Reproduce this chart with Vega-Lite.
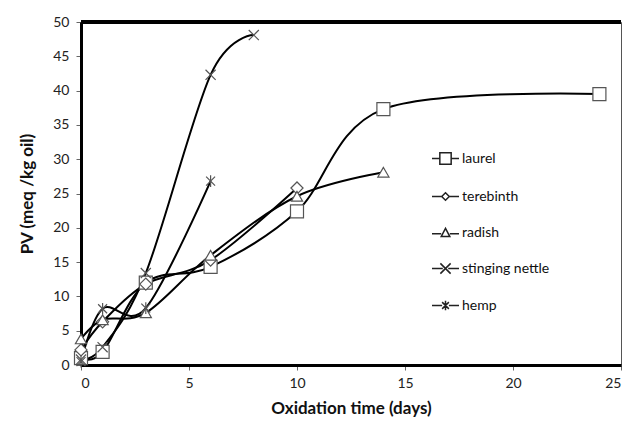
{
  "$schema": "https://vega.github.io/schema/vega-lite/v6.json",
  "autosize": "none",
  "width": 540,
  "height": 343,
  "padding": {"left": 81, "top": 22, "right": 9, "bottom": 60},
  "background": "white",
  "config": {
    "font": "Lato",
    "view": {"stroke": "#555", "strokeWidth": 1},
    "axis": {"grid": false, "labelFont": "Lato", "titleFont": "Lato", "labelFontSize": 14, "labelColor": "#222", "titleFontSize": 17, "titleFontWeight": "bold", "titleColor": "#111", "domainColor": "black", "domainWidth": 3, "tickColor": "#666", "tickSize": 5}
  },
  "data": {"values": [
    {"series": "laurel", "day": 0, "pv": 1.0},
    {"series": "laurel", "day": 1, "pv": 1.9},
    {"series": "laurel", "day": 3, "pv": 12.0},
    {"series": "laurel", "day": 6, "pv": 14.3},
    {"series": "laurel", "day": 10, "pv": 22.4},
    {"series": "laurel", "day": 14, "pv": 37.3},
    {"series": "laurel", "day": 24, "pv": 39.5},
    {"series": "terebinth", "day": 0, "pv": 2.2},
    {"series": "terebinth", "day": 1, "pv": 6.3},
    {"series": "terebinth", "day": 3, "pv": 11.8},
    {"series": "terebinth", "day": 6, "pv": 15.3},
    {"series": "terebinth", "day": 10, "pv": 25.8},
    {"series": "radish", "day": 0, "pv": 3.8},
    {"series": "radish", "day": 1, "pv": 6.6},
    {"series": "radish", "day": 3, "pv": 7.6},
    {"series": "radish", "day": 6, "pv": 16.0},
    {"series": "radish", "day": 10, "pv": 24.6},
    {"series": "radish", "day": 14, "pv": 28.1},
    {"series": "stinging nettle", "day": 0, "pv": 0.8},
    {"series": "stinging nettle", "day": 1, "pv": 2.6},
    {"series": "stinging nettle", "day": 3, "pv": 13.4},
    {"series": "stinging nettle", "day": 6, "pv": 42.3},
    {"series": "stinging nettle", "day": 8, "pv": 48.1},
    {"series": "hemp", "day": 0, "pv": 0.5},
    {"series": "hemp", "day": 1, "pv": 8.2},
    {"series": "hemp", "day": 3, "pv": 8.3},
    {"series": "hemp", "day": 6, "pv": 26.8}
  ]},
  "layer": [
    {
      "mark": {"type": "line", "interpolate": "cardinal", "color": "black", "strokeWidth": 2},
      "encoding": {
        "x": {"field": "day", "type": "quantitative", "scale": {"domain": [0, 25], "nice": false}, "axis": {"values": [0, 5, 10, 15, 20, 25], "title": "Oxidation time (days)", "labelPadding": 6, "titlePadding": 10}},
        "y": {"field": "pv", "type": "quantitative", "scale": {"domain": [0, 50], "nice": false}, "axis": {"values": [0, 5, 10, 15, 20, 25, 30, 35, 40, 45, 50], "title": "PV (meq /kg oil)", "labelPadding": 7, "titlePadding": 16}},
        "detail": {"field": "series"}
      }
    },
    {
      "mark": {"type": "rule", "color": "black", "strokeWidth": 3},
      "encoding": {
        "y": {"datum": 50, "type": "quantitative", "scale": {"domain": [0, 50], "nice": false}, "axis": {"values": [0, 5, 10, 15, 20, 25, 30, 35, 40, 45, 50], "title": "PV (meq /kg oil)", "labelPadding": 7, "titlePadding": 16}}
      }
    },
    {
      "mark": {"type": "point", "filled": false, "fill": "white", "stroke": "#555", "strokeWidth": 1.2, "opacity": 1},
      "encoding": {
        "x": {"field": "day", "type": "quantitative", "scale": {"domain": [0, 25], "nice": false}, "axis": {"values": [0, 5, 10, 15, 20, 25], "title": "Oxidation time (days)", "labelPadding": 6, "titlePadding": 10}},
        "y": {"field": "pv", "type": "quantitative", "scale": {"domain": [0, 50], "nice": false}, "axis": {"values": [0, 5, 10, 15, 20, 25, 30, 35, 40, 45, 50], "title": "PV (meq /kg oil)", "labelPadding": 7, "titlePadding": 16}},
        "shape": {"field": "series", "type": "nominal",
          "scale": {"domain": ["laurel", "terebinth", "radish", "stinging nettle", "hemp"], "range": ["square", "diamond", "triangle-up", "M-1,-1L1,1M-1,1L1,-1", "M-1,-1L1,1M-1,1L1,-1M0,-1.3L0,1.3"]},
          "legend": null},
        "size": {"field": "series", "type": "nominal", "scale": {"domain": ["laurel", "terebinth", "radish", "stinging nettle", "hemp"], "range": [169, 80, 110, 196, 64]}, "legend": null}
      }
    },
    {
      "transform": [{"filter": "datum.day < 0"}],
      "mark": {"type": "point", "color": "#222", "opacity": 1},
      "encoding": {
        "x": {"field": "day", "type": "quantitative", "scale": {"domain": [0, 25], "nice": false}, "axis": {"values": [0, 5, 10, 15, 20, 25], "title": "Oxidation time (days)", "labelPadding": 6, "titlePadding": 10}},
        "y": {"field": "pv", "type": "quantitative", "scale": {"domain": [0, 50], "nice": false}, "axis": {"values": [0, 5, 10, 15, 20, 25, 30, 35, 40, 45, 50], "title": "PV (meq /kg oil)", "labelPadding": 7, "titlePadding": 16}},
        "shape": {"field": "series", "type": "nominal",
          "scale": {"domain": ["laurel", "terebinth", "radish", "stinging nettle", "hemp"], "range": [
            "M-1,0L-0.42,0M-0.42,-0.42L0.42,-0.42L0.42,0.42L-0.42,0.42ZM0.42,0L1,0",
            "M-1,0L-0.28,0M-0.28,0L0,-0.28L0.28,0L0,0.28ZM0.28,0L1,0",
            "M-1,0.1L-0.32,0.1M0.32,0.1L1,0.1M-0.32,0.3L0,-0.3L0.32,0.3Z",
            "M-1,0L-0.2,0M0.2,0L1,0M-0.38,-0.38L0.38,0.38M-0.38,0.38L0.38,-0.38",
            "M-1,0L-0.25,0M0.25,0L1,0M-0.25,-0.25L0.25,0.25M-0.25,0.25L0.25,-0.25M0,-0.35L0,0.35"
          ]},
          "legend": {"title": null, "orient": "none", "legendX": 350, "legendY": 122, "symbolSize": 729, "labelFontSize": 14, "labelFont": "Lato", "labelColor": "#111", "rowPadding": 14, "labelOffset": 2}
        }
      }
    }
  ],
  "resolve": {"scale": {"shape": "independent", "size": "independent"}}
}
